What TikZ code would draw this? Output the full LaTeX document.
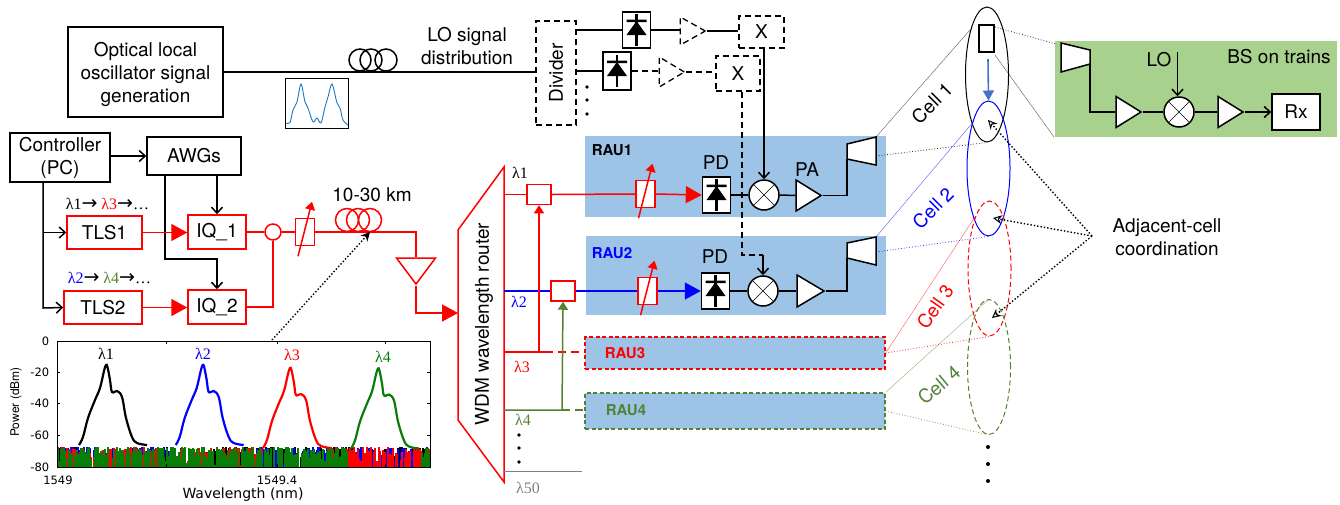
\documentclass[tikz,border=0pt]{standalone}
\usepackage{fontspec}
\usepackage{tikz}
\usetikzlibrary{arrows.meta,shapes.geometric}
\setmainfont{TeX Gyre Heros}
\newfontfamily\lamfont{Liberation Serif}
\newfontfamily\chartfont{DejaVu Sans}
\definecolor{rauband}{RGB}{157,195,230}
\definecolor{trainband}{RGB}{169,209,142}
\definecolor{cellgreen}{RGB}{84,130,53}
\definecolor{specgreen}{RGB}{8,125,8}
\definecolor{movearrow}{RGB}{68,114,196}
\definecolor{insetcurve}{RGB}{30,120,190}
\tikzstyle{every node}=[font=\fontsize{19}{23}\selectfont, inner sep=0pt]
\tikzstyle{blackbox}=[draw, fill=white, align=center]
\tikzstyle{redbox}=[draw=red, fill=white, align=center]
\tikzstyle{dashbox}=[draw, line width=1.3pt, dash pattern=on 6pt off 4pt]
\tikzstyle{raubox}=[fill=rauband]
\tikzstyle{rautext}=[font=\fontsize{15}{18}\selectfont\bfseries, anchor=west]
\tikzstyle{lamtext}=[font=\fontsize{16}{18}\selectfont\lamfont]
\tikzstyle{tick}=[font=\fontsize{11.5}{13}\selectfont\chartfont]
\tikzstyle{amp}=[draw, fill=white, isosceles triangle, isosceles triangle stretches, minimum height=25pt, minimum width=31pt, anchor=apex]
\tikzstyle{mixer}=[draw, fill=white, circle, minimum size=30pt, path picture={\draw[line width=.6pt] (path picture bounding box.north west) -- (path picture bounding box.south east) (path picture bounding box.north east) -- (path picture bounding box.south west);}]
\tikzstyle{pdbox}=[draw, fill=white, minimum width=28pt, minimum height=36pt, path picture={\fill[black, shift={(path picture bounding box.center)}] (-10,5) -- (10,5) -- (0,-9) -- cycle (-10,-10.5) rectangle (10,-8); \draw[line width=2.4pt, shift={(path picture bounding box.center)}] (0,-16) -- (0,16);}]
\tikzstyle{attbox}=[draw=red, fill=white, minimum width=19pt, minimum height=27pt]
\tikzstyle{smallbox}=[draw=red, fill=white, minimum width=24pt, minimum height=20pt]
\tikzstyle{cellshape}=[draw, ellipse, minimum width=43pt, minimum height=135pt, line width=1pt]
\tikzstyle{thinlink}=[line width=.4pt, opacity=.65]
\tikzstyle{dotlink}=[line width=.8pt, dotted, opacity=.8]
\tikzstyle{coordarrow}=[line width=1.4pt, dotted, -{Stealth[open, length=9pt, width=9pt, line width=1pt, sep=0pt]}]
\tikzstyle{barb}=[-{Straight Barb[length=6pt, width=11pt]}]
\tikzstyle{bigtip}=[-{Triangle[length=16pt, width=17pt]}]
\tikzstyle{smalltip}=[-{Triangle[length=8pt, width=10pt]}]
\newcommand{\attarrow}[1]{\draw[red, smalltip] ([shift={(-7,10)}]#1.south) -- ([shift={(7,-16)}]#1.north);}
\newcommand{\lam}[1]{{\lamfont λ#1}}
\newcommand{\lamarrow}{{\chartfont\fontsize{19}{20}\selectfont →}}
\begin{document}
\begin{tikzpicture}[x=1pt, y=-1pt, line width=1.5pt]
    \useasboundingbox (0,0) rectangle (1340,504);

    \node[raubox, minimum width=301pt, minimum height=81pt] (rauone) at (735.5,176.5) {};
    \node[raubox, minimum width=300pt, minimum height=79pt] (rautwo) at (736,275.5) {};
    \node[raubox, draw=red, line width=1.3pt, dash pattern=on 4pt off 2.5pt, minimum width=300pt, minimum height=32pt] (rauthree) at (735,353) {};
    \node[raubox, draw=cellgreen, line width=1.3pt, dash pattern=on 4pt off 2.5pt, minimum width=300pt, minimum height=36pt] (raufour) at (735,411) {};
    \node[rautext] (rauonetext) at (591,150) {RAU1};
    \node[rautext, text=blue] (rautwotext) at (591,253) {RAU2};
    \node[rautext, text=red] (rauthreetext) at (604,353) {RAU3};
    \node[rautext, text=cellgreen] (raufourtext) at (605,410) {RAU4};
    \fill[trainband] (1055,41) rectangle (1337,137);

    \node[blackbox, minimum width=155pt, minimum height=90pt] (oscbox) at (145.5,72) {\rule{0pt}{20pt}Optical local\\oscillator signal\\generation};
    \node[dashbox, minimum width=40pt, minimum height=104pt] (divider) at (556,73) {};
    \node[rotate=90] (dividertext) at (556,73) {Divider};
    \node[align=center] (lotext) at (467,46) {LO signal\\distribution};
    \draw (oscbox.east) -- (oscbox.east -| divider.west);
    \foreach \x in {360,371,386}
        \draw (\x,60) circle (11);

    \draw[line width=.8pt] (285,78) rectangle (348,128);
    \draw[insetcurve, line width=.9pt] plot[smooth, tension=.5] coordinates {(286,123) (290,122.7) (293,110) (297,102) (301,84) (305,102) (308,108) (313,122) (317,118) (321,123) (325,107) (328,97) (332,84) (337,103) (340,108) (343,120) (348,125)};

    \node[pdbox] (pdupper) at (636.5,30) {};
    \node[pdbox, minimum height=38pt] (pdlower) at (617,71) {};
    \node[amp, dashbox, minimum height=25pt, minimum width=28pt] (ampupper) at (707,31) {};
    \node[amp, dashbox, minimum height=25pt, minimum width=30pt] (amplower) at (686,72) {};
    \node[dashbox, minimum width=45pt, minimum height=32pt] (xupper) at (761.5,32) {X};
    \node[dashbox, minimum width=44pt, minimum height=35pt] (xlower) at (738,73.5) {X};
    \draw (divider.east |- pdupper.west) -- (pdupper.west);
    \draw (divider.east |- pdlower.west) -- (pdlower.west);
    \draw (pdupper.east) -- (pdupper.east -| ampupper.lower side);
    \draw (ampupper.apex) -- (ampupper.apex -| xupper.west);
    \draw[dash pattern=on 6pt off 4pt] (pdlower.east) -- (pdlower.east -| amplower.lower side);
    \draw[dash pattern=on 6pt off 4pt] (amplower.apex) -- (amplower.apex -| xlower.west);
    \foreach \y in {87,100,114}
        \fill (587,\y) circle (1.8);

    \node[blackbox, minimum width=100pt, minimum height=49pt] (controller) at (60,157.5) {Controller\\(PC)};
    \node[blackbox, minimum width=94pt, minimum height=38pt] (awgs) at (194,156) {AWGs};
    \node[redbox, minimum width=75pt, minimum height=33pt] (tlsone) at (104.5,232.5) {TLS1};
    \node[redbox, minimum width=78pt, minimum height=33pt] (tlstwo) at (103,307.5) {TLS2};
    \node[redbox, minimum width=58pt, minimum height=34pt] (iqone) at (217,232) {IQ\_1};
    \node[redbox, minimum width=58pt, minimum height=34pt] (iqtwo) at (217,307) {IQ\_2};
    \node[draw=red, fill=white, circle, minimum size=16pt] (coupler) at (273,232) {};
    \node[attbox] (attfeed) at (305,232) {};
    \coordinate (ctrlturn) at (43,308);
    \coordinate (awgturn) at (165,259);
    \coordinate (feedturn) at (416,313);
    \draw[barb] (controller.east |- awgs.west) -- (awgs.west);
    \draw[barb] (controller.south -| ctrlturn) -- (ctrlturn) -- (tlstwo.west);
    \draw[barb] (tlsone.west -| ctrlturn) -- (tlsone.west);
    \draw[barb] (awgs.south -| iqone.north) -- (iqone.north);
    \draw[barb] (awgs.south -| awgturn) -- (awgturn) -| (iqtwo.north);
    \draw[red, bigtip] (tlsone.east) -- (iqone.west |- tlsone.east);
    \draw[red, bigtip] (tlstwo.east) -- (iqtwo.west |- tlstwo.east);
    \draw[red] (iqone.east) -- (coupler.west);
    \draw[red] (iqtwo.east) -| (coupler.south);
    \draw[red] (coupler.east) -- (attfeed.west);
    \attarrow{attfeed}
    \node[draw=red, fill=white, isosceles triangle, isosceles triangle stretches, shape border rotate=270, minimum height=26pt, minimum width=39pt, anchor=apex] (ampfeed) at (416,286) {};
    \draw[red] (attfeed.east) -| (ampfeed.lower side);
    \foreach \x in {347,358,370}
        \draw[red] (\x,220) circle (11.5);
    \node (kmtext) at (372,195) {10-30 km};
    \node[lamtext, anchor=west] (tlsonetext) at (65,204) {\lam{1}\lamarrow{} \textcolor{red}{\lam{3}}\lamarrow\ldots};
    \node[lamtext, anchor=west] (tlstwotext) at (67,278) {\textcolor{blue}{\lam{2}}\lamarrow{} \textcolor{cellgreen}{\lam{4}}\lamarrow\ldots};

    \coordinate (wdmin) at (458,313);
    \draw[red] (504,167) coordinate (wdmtop) -- (458,230) -- (458,420) -- (504,482) coordinate (wdmbottom) -- cycle;
    \node[rotate=90] (wdmtext) at (484,324) {WDM wavelength router};
    \draw[red, bigtip] (ampfeed.apex) |- (wdmin);

    \node[smallbox] (tapone) at (539,194.5) {};
    \node[smallbox] (taptwo) at (563,291) {};
    \node[attbox] (attone) at (645.5,194) {};
    \node[attbox] (atttwo) at (647.5,291) {};
    \node[pdbox] (pdone) at (716.5,195) {};
    \node[pdbox] (pdtwo) at (715.5,291) {};
    \node[mixer] (mixone) at (764,195) {};
    \node[mixer] (mixtwo) at (763,291) {};
    \node[amp] (ampone) at (823,195.5) {};
    \node[amp, minimum height=27pt, minimum width=32pt] (amptwo) at (826,291) {};
    \node (pdonetext) at (716,163) {PD};
    \node (pdtwotext) at (715,257) {PD};
    \node (patext) at (807,170) {PA};
    \coordinate (portone) at (504,194.5);
    \coordinate (porttwo) at (504,291);
    \coordinate (portthree) at (504,352);
    \coordinate (portfour) at (504,410);
    \coordinate (portlast) at (504,471);
    \coordinate (threejoin) at (539,352);
    \coordinate (fourjoin) at (562,410);
    \coordinate (hornonejoin) at (847,195.5);
    \coordinate (horntwojoin) at (847,291);
    \coordinate (lowerturn) at (742,255);
    \draw[red] (portone) -- (tapone.west);
    \draw[red] (tapone.east) -- (attone.west);
    \draw[red, bigtip] (attone.east) -- (pdone.west);
    \attarrow{attone}
    \draw[blue] (porttwo) -- (taptwo.west);
    \draw[blue] (taptwo.east) -- (atttwo.west);
    \draw[blue, bigtip] (atttwo.east) -- (pdtwo.west);
    \attarrow{atttwo}
    \draw[red, smalltip] (portthree) -- (threejoin) -- (tapone.south);
    \draw[red] (threejoin) -- ++(6,0);
    \draw[red, dash pattern=on 8pt off 5pt] (threejoin) ++(6,0) -- (threejoin -| rauthree.west);
    \draw[cellgreen, smalltip] (portfour) -- (fourjoin) -- (taptwo.south);
    \draw[cellgreen, dash pattern=on 8pt off 5pt] (fourjoin) -- (fourjoin -| raufour.west);
    \draw[gray, line width=1pt] (portlast) -- ++(78,0);
    \foreach \y in {435,448,462}
        \fill (519,\y) circle (1.8);
    \node[lamtext] (lamone) at (520,173) {λ1};
    \node[lamtext, text=blue] (lamtwo) at (519,302) {λ2};
    \node[lamtext, text=red] (lamthree) at (522,367) {λ3};
    \node[lamtext, text=cellgreen] (lamfour) at (523,420) {λ4};
    \node[lamtext, text=gray] (lamlast) at (528,488) {λ50};

    \draw (pdone.east) -- (mixone.west);
    \draw (mixone.east) -- (ampone.lower side);
    \draw (pdtwo.east) -- (mixtwo.west);
    \draw (mixtwo.east) -- (amptwo.lower side);
    \draw[barb] (xupper.south -| mixone.north) -- (mixone.north);
    \draw[dash pattern=on 6pt off 4pt] (xlower.south -| lowerturn) -- (lowerturn) -- (lowerturn -| mixtwo.north);
    \draw[barb] (lowerturn -| mixtwo.north) -- (mixtwo.north);
    \draw[fill=white] (847,144) coordinate (hornonea) -- (876,137) coordinate (hornoneb) -- (876,165) coordinate (hornonec) -- (847,159) coordinate (hornoned) -- cycle;
    \draw[fill=white] (847,243) coordinate (horntwoa) -- (876,237) coordinate (horntwob) -- (876,265) coordinate (horntwoc) -- (847,258) coordinate (horntwod) -- cycle;
    \draw (ampone.apex) -- (hornonejoin) -- (hornoned);
    \draw (amptwo.apex) -- (horntwojoin) -- (horntwod);

    \node[cellshape] (cellone) at (987,74.5) {};
    \node[cellshape, draw=blue] (celltwo) at (988.5,168.5) {};
    \node[cellshape, draw=red, dash pattern=on 5pt off 3pt] (cellthree) at (989.5,268.5) {};
    \node[cellshape, draw=cellgreen, dash pattern=on 5pt off 3pt] (cellfour) at (989,367) {};
    \node[draw, line width=2pt, minimum width=15pt, minimum height=27pt] (train) at (986.5,38.5) {};
    \draw[movearrow, line width=1.6pt, -{Triangle[length=10pt, width=11pt]}] (train.south) ++(1.5,6) -- (celltwo.north);
    \draw[thinlink] (hornoneb) -- (cellone.110);
    \draw[dotlink] (876,156) -- (cellone.south);
    \draw[thinlink, blue] (horntwob) -- (celltwo.110);
    \draw[dotlink, blue] (876,252) -- (celltwo.south);
    \draw[thinlink, red] (rauthree.east) -- (cellthree.105);
    \draw[dotlink, red] (rauthree.east) -- (cellthree.south);
    \draw[thinlink, cellgreen] (raufour.north east) -- (cellfour.north);
    \draw[dotlink, cellgreen] (raufour.east) -- (cellfour.south);
    \node[rotate=45] (cellonetext) at (932,103) {Cell 1};
    \node[rotate=45, text=blue] (celltwotext) at (933,208) {Cell 2};
    \node[rotate=55, text=red] (cellthreetext) at (935,307) {Cell 3};
    \node[rotate=40, text=cellgreen] (cellfourtext) at (939,385) {Cell 4};
    \foreach \y in {447,464,481}
        \fill (988,\y) circle (2);

    \node[align=center] (adjacent) at (1167,237) {Adjacent-cell\\coordination};
    \coordinate (adjacentfan) at (1092,236);
    \draw[coordarrow] (adjacentfan) -- (988,120);
    \draw[coordarrow] (adjacentfan) -- (993,218);
    \draw[coordarrow] (adjacentfan) -- (992,318);

    \draw[dotlink] (train.north east) ++(0,3) -- (1056,44);
    \draw[thinlink] (train.south east) ++(0,2) -- (1054,137);
    \draw[fill=white] (1061,43) coordinate (hornbsa) -- (1090,50) coordinate (hornbsb) -- (1090,64) coordinate (hornbsc) -- (1061,72) coordinate (hornbsd) -- cycle;
    \node[amp] (ampbsone) at (1143,112) {};
    \node[mixer] (mixbs) at (1179,112) {};
    \node[amp] (ampbstwo) at (1245,112) {};
    \node[blackbox, minimum width=48pt, minimum height=36pt] (rxbox) at (1296,112) {Rx};
    \node (lotrain) at (1159,60) {LO};
    \node (bstext) at (1279,57) {BS on trains};
    \coordinate (lofeed) at (1177.5,52);
    \draw (hornbsc) |- (ampbsone.lower side);
    \draw (ampbsone.apex) -- (mixbs.west);
    \draw (mixbs.east) -- (ampbstwo.lower side);
    \draw[barb] (ampbstwo.apex) -- (rxbox.west);
    \draw[barb] (lofeed) -- (lofeed |- mixbs.north);

    \begin{scope}
        \clip (57,341) rectangle (430,467);
        \pgfmathsetseed{11}
        \foreach \noisecolor/\peakfrom/\peakto/\noisekeep in {black/79/147/.55, blue/176/245/.6, red/263/330/.6, specgreen/350/420/.68}
            \foreach \x in {57,58,...,430}{
                \pgfmathparse{((\x<\peakfrom || \x>\peakto) && rnd<\noisekeep) ? 1 : 0}
                \ifnum\pgfmathresult=1
                    \pgfmathsetmacro\noisetop{447+19*rnd*rnd}
                    \draw[\noisecolor, line width=1.1pt] (\x,467) -- (\x,\noisetop);
                \fi
            }
        \foreach \peakcolor/\dx/\dy in {black/0/0, blue/96.7/0, red/184/3, specgreen/272/3.5}
            \draw[\peakcolor, line width=2.2pt, shift={(\dx,\dy)}] plot[smooth, tension=.6] coordinates {(79,445) (83,437) (88,418) (95,400) (100,388) (104,371) (106,365) (107.5,367) (110,380) (112,392) (117,391) (122,397) (126,418) (132,437) (137,443) (147,445)};
    \end{scope}
    \draw[line width=.7pt] (57,341) rectangle (430,467);
    \foreach \y/\ticklabel in {341/0, 372/-20, 403/-40, 435/-60, 467/-80}{
        \draw[line width=.5pt] (57,\y) -- ++(3,0) (430,\y) -- ++(-3,0);
        \node[tick, anchor=east] at (50,\y) {\ticklabel};
    }
    \foreach \x in {57,166,277,385}
        \draw[line width=.5pt] (\x,341) -- ++(0,3) (\x,467) -- ++(0,-3);
    \node[tick] (ticklow) at (58,480) {1549};
    \node[tick] (tickhigh) at (277,480) {1549.4};
    \node[font=\fontsize{14}{16}\selectfont\chartfont] (xaxistext) at (243,495) {Wavelength (nm)};
    \node[font=\fontsize{12}{14}\selectfont, rotate=90] (yaxistext) at (16,402) {Power (dBm)};
    \node[lamtext] (peakone) at (106,354) {λ1};
    \node[lamtext, text=blue] (peaktwo) at (203,354) {λ2};
    \node[lamtext, text=red] (peakthree) at (292,355) {λ3};
    \node[lamtext, text=specgreen] (peakfour) at (383,357) {λ4};
    \coordinate (chartpoint) at (272,340);
    \draw[line width=1.4pt, dotted, -{Stealth[length=9pt, width=9pt]}] (chartpoint) -- (370,232);
\end{tikzpicture}
\end{document}
